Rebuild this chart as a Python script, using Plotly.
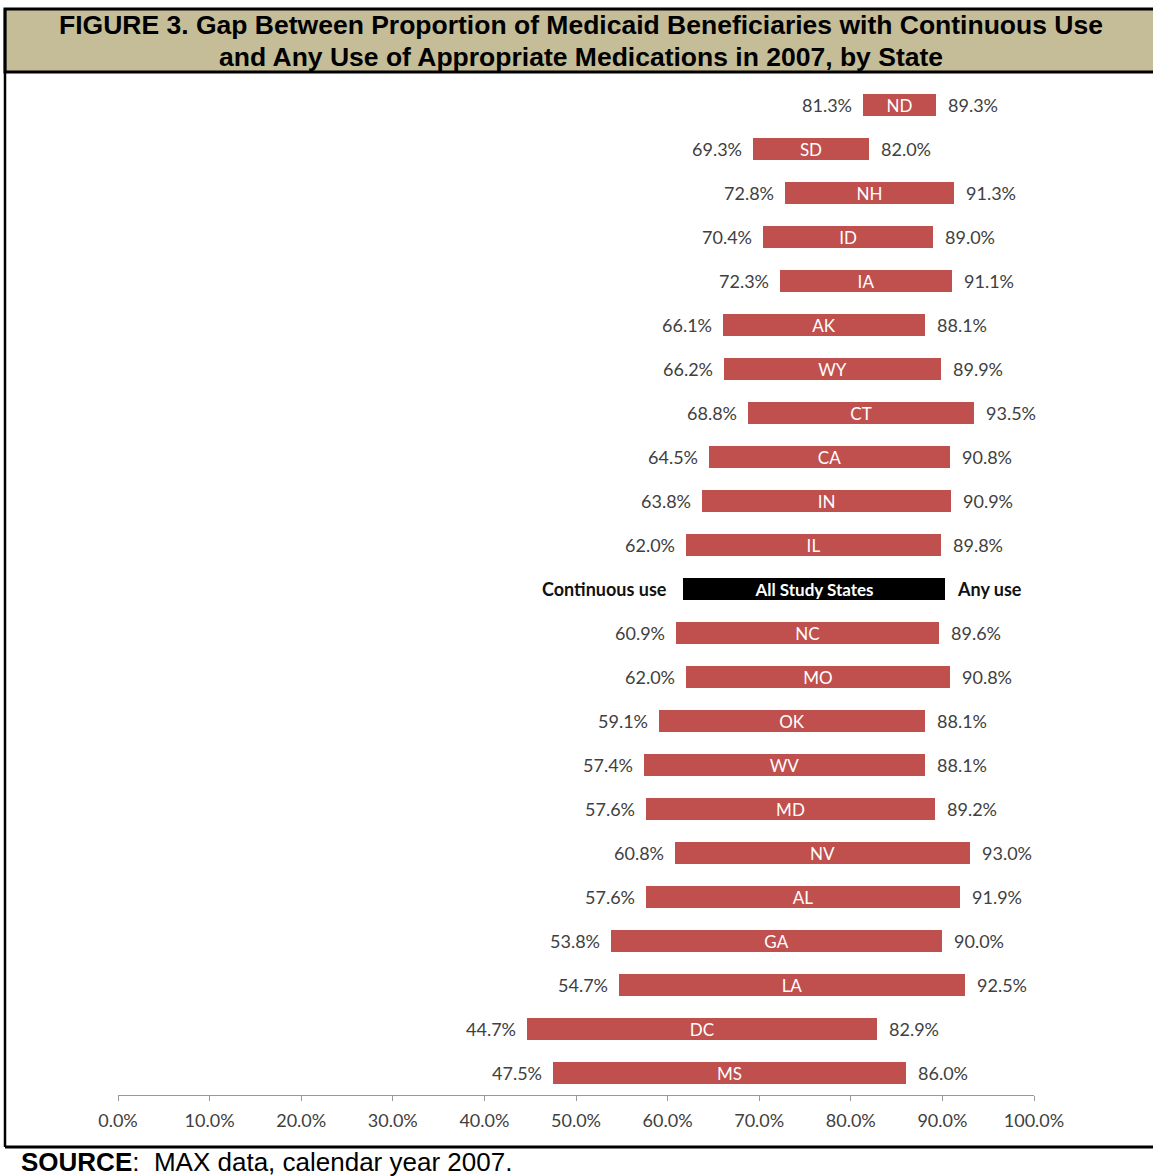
import plotly.graph_objects as go

# ---- data ----
ROWS = ["ND", "SD", "NH", "ID", "IA", "AK", "WY", "CT", "CA", "IN", "IL",
        "All Study States",
        "NC", "MO", "OK", "WV", "MD", "NV", "AL", "GA", "LA", "DC", "MS"]
CONTINUOUS_USE = [81.3, 69.3, 72.8, 70.4, 72.3, 66.1, 66.2, 68.8, 64.5, 63.8, 62.0,
                  61.7,
                  60.9, 62.0, 59.1, 57.4, 57.6, 60.8, 57.6, 53.8, 54.7, 44.7, 47.5]
ANY_USE = [89.3, 82.0, 91.3, 89.0, 91.1, 88.1, 89.9, 93.5, 90.8, 90.9, 89.8,
           90.3,
           89.6, 90.8, 88.1, 88.1, 89.2, 93.0, 91.9, 90.0, 92.5, 82.9, 86.0]
SUMMARY_ROW = "All Study States"
SUMMARY_LEFT_LABEL = "Continuous use"
SUMMARY_RIGHT_LABEL = "Any use"
TICK_VALUES = [0, 10, 20, 30, 40, 50, 60, 70, 80, 90, 100]
TICK_LABELS = ["0.0%", "10.0%", "20.0%", "30.0%", "40.0%", "50.0%",
               "60.0%", "70.0%", "80.0%", "90.0%", "100.0%"]
TITLE_LINE_1 = "FIGURE 3. Gap Between Proportion of Medicaid Beneficiaries with Continuous Use"
TITLE_LINE_2 = "and Any Use of Appropriate Medications in 2007, by State"
SOURCE_TEXT = "<b>SOURCE</b>: &nbsp;MAX data, calendar year 2007."

# ---- style ----
W, H = 1153, 1176
L, R, T, B = 118, 119, 83, 81
BAR_RED = "#C0504D"
LABEL_GREY = "#404040"
HEADER_FILL = "#C4BD97"
CHART_FONT = "Lato"
HEAD_FONT = "Liberation Sans, Arial"

plot_w = W - L - R
plot_h = H - T - B


def px2x(px):
    return (px - L) / plot_w


def py2y(py):
    return (H - B - py) / plot_h


colors = ["#000000" if r == SUMMARY_ROW else BAR_RED for r in ROWS]
bar_text = [f"<b>{r}</b>" if r == SUMMARY_ROW else r for r in ROWS]

fig = go.Figure()
fig.add_trace(go.Bar(
    orientation="h",
    y=ROWS,
    x=[a - c for a, c in zip(ANY_USE, CONTINUOUS_USE)],
    base=CONTINUOUS_USE,
    width=0.52,
    marker=dict(color=colors, line=dict(width=0)),
    text=bar_text,
    textposition="inside",
    insidetextanchor="middle",
    textangle=0,
    constraintext="none",
    textfont=dict(color="white", size=17, family=CHART_FONT),
    hoverinfo="skip",
    cliponaxis=False,
))

annotations = []
for r, c, a in zip(ROWS, CONTINUOUS_USE, ANY_USE):
    if r == SUMMARY_ROW:
        lt, rt, col = f"<b>{SUMMARY_LEFT_LABEL}</b>", f"<b>{SUMMARY_RIGHT_LABEL}</b>", "#111111"
        ls = -14
    else:
        lt, rt, col = f"{c:.1f}%", f"{a:.1f}%", LABEL_GREY
        ls = -9
    annotations.append(dict(x=c, y=r, xref="x", yref="y", text=lt, showarrow=False,
                            xanchor="right", yanchor="middle", xshift=ls,
                            font=dict(family=CHART_FONT, size=18, color=col)))
    annotations.append(dict(x=a, y=r, xref="x", yref="y", text=rt, showarrow=False,
                            xanchor="left", yanchor="middle", xshift=10,
                            font=dict(family=CHART_FONT, size=18, color=col)))

annotations.append(dict(x=px2x(581), y=py2y(25), xref="paper", yref="paper",
                        text=f"<b>{TITLE_LINE_1}</b>", showarrow=False,
                        xanchor="center", yanchor="middle",
                        font=dict(family=HEAD_FONT, size=26.5, color="black")))
annotations.append(dict(x=px2x(581), y=py2y(57), xref="paper", yref="paper",
                        text=f"<b>{TITLE_LINE_2}</b>", showarrow=False,
                        xanchor="center", yanchor="middle",
                        font=dict(family=HEAD_FONT, size=26.5, color="black")))
annotations.append(dict(x=px2x(19), y=py2y(1162), xref="paper", yref="paper",
                        text=SOURCE_TEXT, showarrow=False,
                        xanchor="left", yanchor="middle",
                        font=dict(family=HEAD_FONT, size=26, color="black")))

shapes = [
    dict(type="rect", xref="paper", yref="paper",
         x0=px2x(5), x1=px2x(1165), y0=py2y(72), y1=py2y(9),
         fillcolor=HEADER_FILL, line=dict(color="black", width=3), layer="below"),
    dict(type="line", xref="paper", yref="paper",
         x0=px2x(5), x1=px2x(5), y0=py2y(9), y1=py2y(1147),
         line=dict(color="black", width=2.5)),
    dict(type="line", xref="paper", yref="paper",
         x0=px2x(5), x1=px2x(1165), y0=py2y(1147), y1=py2y(1147),
         line=dict(color="black", width=3)),
]

fig.update_layout(
    width=W, height=H, autosize=False,
    margin=dict(l=L, r=R, t=T, b=B, pad=0),
    paper_bgcolor="white", plot_bgcolor="white",
    showlegend=False,
    bargap=0,
    annotations=annotations,
    shapes=shapes,
    xaxis=dict(range=[0, 100], tickmode="array", tickvals=TICK_VALUES, ticktext=TICK_LABELS,
               showgrid=False, zeroline=False, showline=True, linecolor="#999999",
               linewidth=1, ticks="outside", ticklen=5, tickcolor="#999999",
               ticklabelstandoff=4,
               tickfont=dict(family=CHART_FONT, size=18, color=LABEL_GREY),
               fixedrange=True),
    yaxis=dict(type="category", categoryorder="array", categoryarray=ROWS,
               range=[len(ROWS) - 0.5, -0.5], showticklabels=False, showgrid=False,
               zeroline=False, showline=False, ticks="", fixedrange=True),
)

fig.write_html(
    "out.html",
    config={"displayModeBar": False},
    post_script="document.body.style.margin='0';document.body.style.overflow='hidden';",
)
